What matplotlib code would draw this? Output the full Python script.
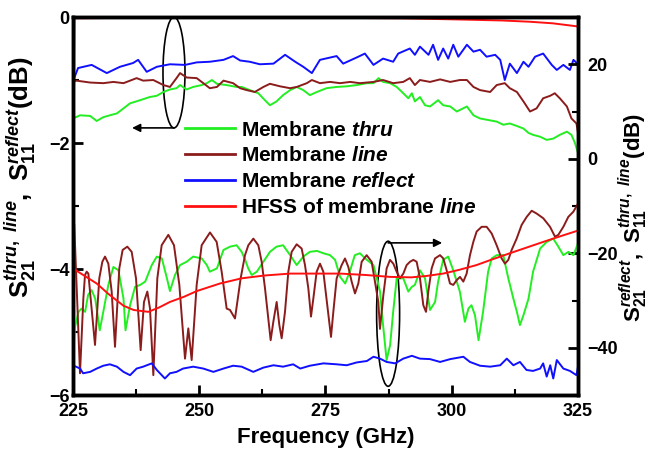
import matplotlib
matplotlib.use('Agg')
import matplotlib.pyplot as plt
from matplotlib.patches import Ellipse
from matplotlib.lines import Line2D
from matplotlib.ticker import MultipleLocator

# ---- data ----
# left axis (dB): S21 thru / line, S11 reflect
thru_s21_f = [225.0, 226.4, 228.4, 229.7, 231.0, 232.3, 233.7, 235.0, 236.3, 238.3,
              240.2, 241.6, 242.9, 244.2, 245.5, 246.2, 247.5, 248.8, 250.5, 251.5,
              252.5, 253.5, 255.4, 257.4, 258.4, 260.0, 261.7, 263.0, 264.0, 265.3,
              266.6, 268.0, 269.3, 270.6, 271.9, 273.3, 275.2, 277.2, 279.2, 281.2,
              283.2, 284.5, 285.5, 286.4, 287.8, 289.1, 290.4, 291.4, 292.1, 292.7,
              293.7, 294.7, 295.7, 297.3, 298.3, 299.7, 301.0, 303.0, 304.3, 305.6,
              306.9, 308.9, 310.2, 311.5, 312.9, 314.2, 315.2, 316.1, 317.5, 318.8,
              320.1, 321.4, 322.8, 323.7, 324.4, 325.0]
thru_s21 = [-1.61, -1.56, -1.57, -1.65, -1.59, -1.56, -1.53, -1.45, -1.37, -1.32,
            -1.27, -1.25, -1.19, -1.15, -1.13, -1.08, -1.15, -1.11, -1.08, -1.05,
            -1.00, -1.06, -1.08, -1.11, -1.11, -1.16, -1.21, -1.32, -1.40, -1.34,
            -1.24, -1.16, -1.11, -1.16, -1.24, -1.19, -1.13, -1.11, -1.10, -1.08,
            -1.05, -1.05, -0.97, -1.03, -1.05, -1.11, -1.21, -1.29, -1.21, -1.34,
            -1.27, -1.40, -1.42, -1.32, -1.40, -1.42, -1.50, -1.42, -1.56, -1.61,
            -1.63, -1.66, -1.71, -1.69, -1.73, -1.77, -1.84, -1.87, -1.90, -1.95,
            -1.93, -1.87, -1.82, -1.87, -2.00, -2.16]

line_s21_f = [225.0, 225.7, 228.4, 231.0, 233.0, 235.0, 237.6, 238.9, 240.9, 242.9,
              244.2, 245.5, 246.2, 247.5, 249.5, 250.8, 252.1, 253.5, 254.8, 256.7,
              258.1, 259.4, 261.0, 262.7, 264.0, 266.0, 268.0, 269.3, 271.3, 272.3,
              273.9, 275.9, 277.9, 279.9, 281.8, 284.5, 286.4, 288.4, 290.4, 291.7,
              292.7, 293.7, 295.7, 297.7, 299.7, 301.6, 303.0, 304.3, 305.6, 307.6,
              308.9, 310.5, 311.5, 312.9, 314.2, 315.5, 316.8, 318.1, 319.5, 320.4,
              321.4, 322.8, 323.7, 324.7, 325.0]
line_s21 = [-1.03, -1.01, -1.04, -1.05, -1.03, -1.05, -0.97, -1.01, -1.00, -1.08,
            -1.11, -0.97, -0.89, -0.96, -0.97, -1.05, -1.13, -1.11, -1.01, -1.05,
            -1.13, -1.16, -1.19, -1.11, -1.06, -1.10, -1.13, -1.11, -1.05, -1.00,
            -1.05, -1.03, -1.05, -1.03, -1.05, -1.03, -1.00, -1.05, -1.03, -0.97,
            -1.08, -1.00, -1.03, -0.99, -1.03, -1.00, -1.00, -1.11, -1.16, -1.19,
            -1.08, -1.05, -1.13, -1.19, -1.34, -1.50, -1.45, -1.29, -1.25, -1.21,
            -1.29, -1.42, -1.61, -1.69, -1.84]

reflect_s11_f = [225.0, 225.1, 226.0, 228.7, 231.7, 234.3, 236.9, 237.9, 239.6, 241.6,
                 244.2, 247.2, 249.5, 252.1, 254.8, 256.7, 258.1, 260.0, 262.0, 264.7,
                 267.0, 269.0, 270.6, 272.3, 273.9, 277.2, 278.5, 281.5, 282.8, 284.5,
                 286.4, 288.4, 289.4, 291.7, 292.7, 293.7, 295.4, 296.3, 297.3, 298.3,
                 299.3, 300.3, 301.3, 303.0, 304.3, 305.6, 306.9, 308.6, 309.6, 310.5,
                 311.5, 312.9, 314.2, 315.2, 316.5, 318.1, 319.8, 320.8, 322.1, 323.4,
                 324.1, 325.0]
reflect_s11 = [-1.05, -1.00, -0.81, -0.76, -0.89, -0.79, -0.73, -0.68, -0.87, -0.79,
               -0.75, -0.76, -0.72, -0.71, -0.68, -0.62, -0.69, -0.71, -0.75, -0.74,
               -0.60, -0.71, -0.79, -0.89, -0.68, -0.62, -0.74, -0.63, -0.58, -0.76,
               -0.66, -0.71, -0.58, -0.50, -0.60, -0.47, -0.60, -0.44, -0.68, -0.50,
               -0.66, -0.44, -0.63, -0.44, -0.55, -0.52, -0.63, -0.60, -0.68, -1.00,
               -0.74, -0.89, -0.71, -0.79, -0.63, -0.58, -0.76, -0.84, -0.76, -0.84,
               -0.68, -0.75]

hfss_s21_f = [225.0, 225.3, 240.0, 260.0, 280.0, 290.0, 302.0, 310.0, 315.5, 320.0, 325.0]
hfss_s21 = [-4.0, -0.02, -0.01, -0.01, -0.015, -0.02, -0.04, -0.055, -0.075, -0.10, -0.15]

# right axis (dB): S21 reflect, S11 thru / line
reflect_s21_f = [225.0, 226.4, 227.0, 228.4, 229.7, 231.0, 232.3, 233.7, 235.0, 236.3,
                 237.6, 238.9, 240.6, 241.6, 243.2, 244.2, 245.5, 246.8, 248.8, 250.8,
                 252.8, 254.8, 256.7, 258.4, 260.7, 262.7, 264.7, 266.6, 268.6, 270.0,
                 271.9, 274.6, 277.2, 279.2, 281.2, 283.2, 284.5, 285.8, 287.1, 288.8,
                 290.4, 292.1, 293.7, 295.7, 297.7, 299.7, 302.3, 303.6, 305.6, 307.6,
                 309.6, 310.9, 312.2, 313.5, 314.8, 316.1, 317.5, 318.1, 318.8, 319.5,
                 320.1, 320.8, 322.1, 323.4, 324.7, 325.0]
reflect_s21 = [-43.7, -44.4, -45.4, -45.1, -44.4, -43.8, -43.5, -44.0, -45.1, -45.8,
               -44.4, -44.0, -43.3, -44.7, -46.5, -45.4, -45.1, -44.4, -44.0, -44.4,
               -45.1, -44.4, -43.8, -44.0, -45.1, -44.2, -43.7, -44.0, -43.5, -44.4,
               -43.8, -43.3, -43.5, -43.7, -43.1, -42.8, -41.9, -42.3, -43.0, -43.3,
               -42.3, -41.7, -42.3, -42.4, -43.0, -42.4, -41.9, -43.0, -43.8, -44.0,
               -43.7, -42.3, -43.7, -43.0, -44.7, -44.9, -44.4, -43.3, -46.1, -43.7,
               -46.5, -42.6, -44.4, -44.9, -45.8, -44.0]

thru_s11_f = [225.0, 225.4, 226.1, 226.7, 227.4, 228.0, 228.7, 229.4, 230.3, 231.0,
              232.0, 233.0, 234.0, 235.0, 235.4, 236.3, 237.3, 238.3, 239.3, 240.6,
              241.6, 242.6, 243.6, 244.2, 245.2, 246.2, 247.5, 248.8, 250.5, 251.5,
              252.1, 253.5, 254.8, 256.1, 257.4, 258.4, 259.1, 259.7, 260.4, 261.4,
              262.7, 264.0, 265.3, 266.6, 268.0, 269.3, 270.6, 271.9, 273.3, 274.6,
              275.9, 276.9, 277.9, 278.9, 279.9, 280.8, 281.8, 283.2, 284.5, 285.8,
              286.4, 287.1, 287.8, 288.4, 289.1, 290.4, 291.4, 292.1, 292.7, 293.7,
              294.7, 295.7, 296.7, 297.3, 298.3, 299.3, 300.3, 301.6, 302.6, 303.3,
              303.9, 304.6, 305.3, 306.2, 307.2, 307.9, 308.9, 310.2, 311.2, 312.2,
              312.9, 313.5, 314.2, 315.2, 316.1, 317.5, 318.8, 320.1, 321.1, 322.1,
              323.1, 324.1, 325.0]
thru_s11 = [-42.3, -35.6, -32.4, -31.7, -32.4, -28.8, -27.8, -29.6, -36.3, -32.4,
            -26.7, -22.9, -23.6, -29.6, -36.3, -31.0, -27.1, -26.7, -26.0, -22.5,
            -20.7, -21.1, -25.3, -28.0, -24.6, -22.5, -21.8, -20.7, -21.1, -22.5,
            -23.9, -23.2, -19.3, -18.6, -18.3, -19.7, -21.4, -23.2, -24.6, -23.9,
            -21.8, -19.7, -18.6, -18.3, -20.4, -22.5, -20.7, -19.7, -19.5, -20.0,
            -20.4, -21.4, -25.0, -26.4, -23.6, -20.4, -20.0, -21.4, -22.5, -28.1,
            -35.2, -42.6, -39.4, -32.4, -25.3, -25.3, -28.1, -27.1, -26.7, -23.6,
            -25.3, -32.0, -30.3, -26.0, -21.4, -20.7, -23.6, -28.1, -34.5, -31.7,
            -31.0, -33.1, -38.4, -32.4, -23.9, -21.1, -20.4, -20.4, -25.3, -29.6,
            -32.4, -35.2, -33.1, -29.6, -23.9, -19.0, -17.6, -16.9, -18.6, -20.4,
            -19.7, -20.4, -17.9]

line_s11_f = [225.25, 226.39, 227.05, 227.38, 227.71, 228.04, 228.50, 229.36, 230.21, 230.81,
              231.34, 232.00, 232.66, 233.32, 234.17, 234.83, 235.76, 236.62, 237.48, 238.40,
              239.06, 239.72, 240.25, 240.91, 241.70, 242.56, 243.88, 245.00, 246.06, 247.18,
              247.84, 248.50, 249.49, 250.48, 252.13, 253.45, 254.44, 255.43, 256.09, 257.08,
              258.20, 259.06, 259.72, 260.71, 261.70, 262.36, 263.02, 263.68, 264.14, 264.67,
              265.33, 265.86, 266.32, 266.98, 267.64, 268.30, 269.29, 270.28, 270.94, 271.60,
              272.13, 272.59, 273.25, 273.91, 274.57, 275.36, 276.09, 276.55, 277.21, 278.20,
              278.86, 279.52, 280.18, 280.84, 281.50, 282.16, 283.15, 284.14, 284.80, 285.46,
              285.79, 286.45, 287.11, 287.77, 288.43, 289.09, 289.75, 290.41, 291.07, 291.73,
              292.39, 293.05, 293.71, 294.37, 294.90, 295.36, 296.02, 296.68, 297.67, 298.33,
              298.99, 299.65, 300.31, 300.97, 301.63, 302.29, 302.95, 303.61, 304.27, 304.93,
              305.92, 306.91, 307.90, 308.89, 309.88, 310.54, 311.20, 311.86, 312.85, 313.84,
              314.84, 315.83, 316.82, 318.13, 319.46, 320.45, 321.10, 322.10, 323.08, 324.08,
              325.0]
line_s11 = [-14.0, -45.4, -29.6, -24.6, -23.9, -24.3, -29.6, -39.4, -25.3, -21.8,
            -20.7, -22.2, -28.1, -39.8, -23.2, -19.3, -18.6, -19.7, -25.3, -40.5,
            -30.3, -28.1, -31.7, -45.8, -25.3, -18.3, -16.1, -18.3, -26.7, -42.3,
            -35.9, -42.6, -26.7, -18.3, -15.6, -17.6, -23.9, -31.7, -32.0, -33.8,
            -25.3, -20.4, -18.3, -16.9, -18.3, -21.8, -27.4, -33.8, -38.4, -34.5,
            -30.3, -35.2, -38.0, -32.4, -23.9, -19.7, -18.1, -19.0, -22.5, -27.4,
            -33.4, -29.6, -23.9, -22.2, -23.9, -31.0, -37.7, -32.4, -25.3, -22.5,
            -21.1, -22.9, -26.0, -28.5, -26.4, -21.8, -20.4, -21.8, -26.0, -30.3,
            -36.0, -28.9, -23.2, -21.4, -22.2, -23.9, -25.3, -24.3, -22.5, -21.8,
            -21.4, -21.8, -25.3, -31.0, -32.4, -28.1, -23.2, -21.1, -20.4, -21.1,
            -23.6, -26.4, -26.7, -25.7, -25.0, -26.0, -24.3, -20.4, -17.6, -15.4,
            -14.4, -14.4, -15.8, -18.3, -21.1, -22.2, -21.4, -19.3, -16.9, -14.0,
            -12.3, -11.0, -11.6, -12.6, -14.4, -16.5, -16.1, -14.4, -12.3, -11.2,
            -9.5]

hfss_s11_f = [225.0, 225.1, 229.7, 232.0, 235.0, 237.0, 239.9, 242.0, 244.2, 247.0,
              249.5, 254.1, 258.4, 263.0, 268.0, 277.9, 283.0, 287.8, 292.0, 295.0,
              298.3, 301.5, 304.9, 308.0, 311.5, 318.1, 321.5, 325.0]
hfss_s11 = [-23.3, -23.3, -26.4, -28.6, -31.1, -32.0, -32.4, -31.5, -30.3, -29.2,
            -28.0, -26.4, -25.3, -24.7, -24.3, -24.3, -24.6, -25.0, -25.1, -24.8,
            -24.3, -23.5, -22.5, -21.3, -20.0, -17.6, -16.4, -15.2]

legend_labels = ['Membrane $\\mathbfit{thru}$', 'Membrane $\\mathbfit{line}$',
                 'Membrane $\\mathbfit{reflect}$', 'HFSS of membrane $\\mathbfit{line}$']

green = '#22ee22'
brown = '#8b1c1c'
blue = '#1010ff'
red = '#ff1010'

plt.rcParams['font.family'] = 'Liberation Sans'
plt.rcParams['font.weight'] = 'bold'
plt.rcParams['axes.labelweight'] = 'bold'
plt.rcParams['mathtext.fontset'] = 'custom'
plt.rcParams['mathtext.rm'] = 'Liberation Sans:bold'
plt.rcParams['mathtext.bf'] = 'Liberation Sans:bold'
plt.rcParams['mathtext.it'] = 'Liberation Sans:italic'
plt.rcParams['mathtext.bfit'] = 'Liberation Sans:italic:bold'

fig = plt.figure(figsize=(6.54, 4.65), dpi=100)
ax = fig.add_axes([0.1116, 0.1505, 0.7722, 0.8129])
ax2 = ax.twinx()

lw = 1.4
ax.plot(thru_s21_f, thru_s21, color=green, lw=lw)
ax.plot(line_s21_f, line_s21, color=brown, lw=lw)
ax.plot(reflect_s11_f, reflect_s11, color=blue, lw=lw)
ax.plot(hfss_s21_f, hfss_s21, color=red, lw=lw)

ax2.plot(thru_s11_f, thru_s11, color=green, lw=lw)
ax2.plot(line_s11_f, line_s11, color=brown, lw=lw)
ax2.plot(reflect_s21_f, reflect_s21, color=blue, lw=lw)
ax2.plot(hfss_s11_f, hfss_s11, color=red, lw=lw)

ax.set_xlim(225, 325)
ax.set_ylim(-6, 0)
ax2.set_ylim(-50, 30)

ax.set_xticks([225, 250, 275, 300, 325])
ax.xaxis.set_minor_locator(MultipleLocator(12.5))
ax.set_yticks([-6, -4, -2, 0])
ax.yaxis.set_minor_locator(MultipleLocator(1))
ax2.set_yticks([-40, -20, 0, 20])
ax2.yaxis.set_minor_locator(MultipleLocator(10))

for a in (ax, ax2):
    a.tick_params(which='major', direction='in', length=7, width=2, labelsize=13)
    a.tick_params(which='minor', direction='in', length=4, width=1.5)
    for s in a.spines.values():
        s.set_linewidth(2.5)
ax.tick_params(axis='y', pad=2.5)
ax.tick_params(axis='x', pad=6)
ax2.tick_params(axis='y', pad=7)

ax.set_xlabel('Frequency (GHz)', fontsize=16, fontweight='bold', labelpad=5)
ax.set_ylabel(r'$\mathrm{S}_{\mathrm{21}}^{\mathit{thru,\ line}}\mathrm{,\ S}_{\mathrm{11}}^{\mathit{reflect}}\mathrm{(dB)}$',
              fontsize=18.5)
ax.yaxis.set_label_coords(-0.07, 0.575)
ax2.set_ylabel(r'$\mathrm{S}_{\mathrm{21}}^{\mathit{reflect}}\mathrm{,\ S}_{\mathrm{11}}^{\mathit{thru,\ line}}\mathrm{(dB)}$',
               fontsize=16)
ax2.yaxis.set_label_coords(1.075, 0.47)

# ellipses + arrows
ax.add_patch(Ellipse((245.0, -0.88), 4.36, 1.76, fill=False, ec='black', lw=1.2))
ax.annotate('', xy=(236.7, -1.76), xytext=(245.0, -1.76),
            arrowprops=dict(arrowstyle='-|>', color='black', lw=1.2,
                            mutation_scale=12, shrinkA=0, shrinkB=0))
ax2.add_patch(Ellipse((287.4, -32.8), 4.55, 30.7, fill=False, ec='black', lw=1.2))
ax2.annotate('', xy=(298.1, -17.8), xytext=(287.4, -17.8),
             arrowprops=dict(arrowstyle='-|>', color='black', lw=1.2,
                             mutation_scale=12, shrinkA=0, shrinkB=0))

handles = [Line2D([], [], color=c, lw=2) for c in (green, brown, blue, red)]
ax2.legend(handles, legend_labels, loc='upper left', bbox_to_anchor=(0.222, 0.726),
           frameon=False, borderpad=0, borderaxespad=0, handlelength=2.4,
           handletextpad=0.3, labelspacing=0.33, prop={'size': 15, 'weight': 'bold'})

fig.savefig('out.png', dpi=100)
